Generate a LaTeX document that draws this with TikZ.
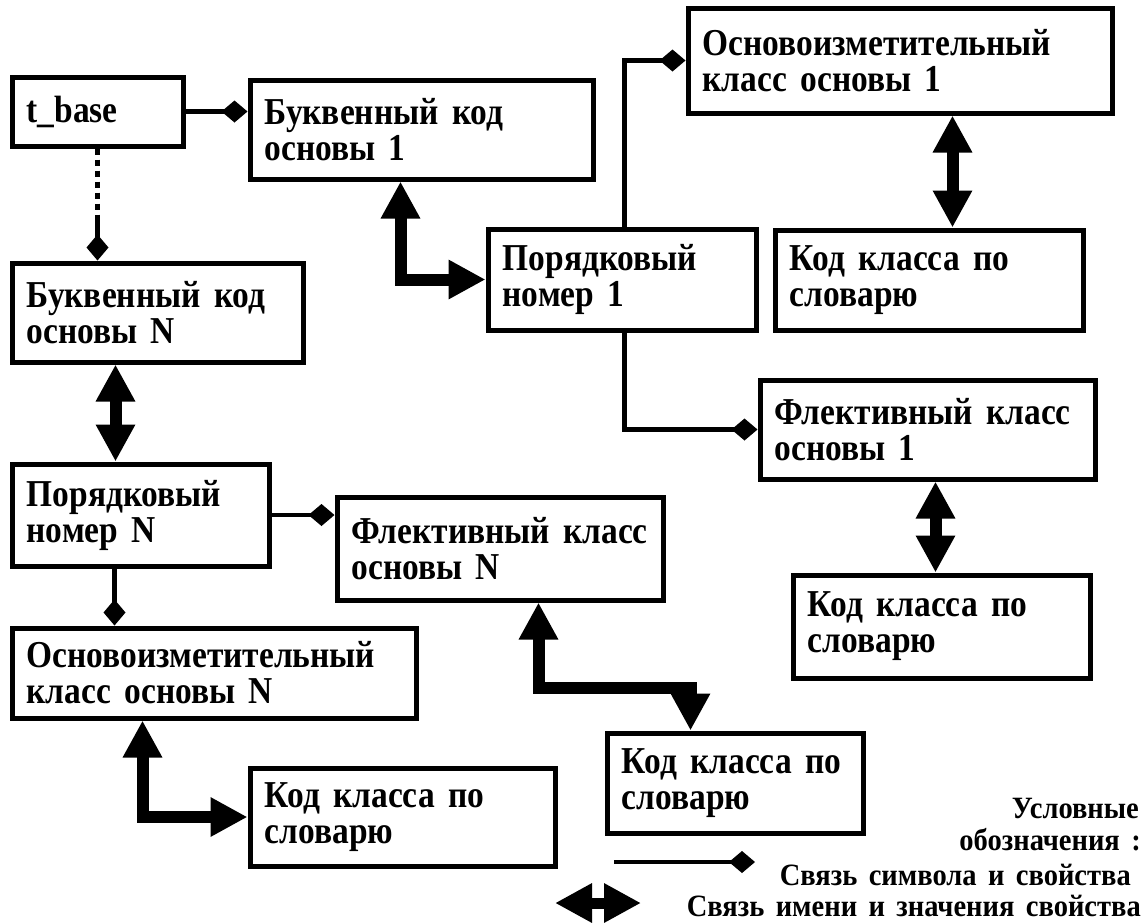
\documentclass[tikz,border=0pt]{standalone}
\usepackage{fontspec}
\setmainfont{Liberation Serif}
\newfontfamily\lblfont{Liberation Serif}[FakeStretch=0.88,WordSpace=1.6]
\newfontfamily\legfont{Liberation Serif}[FakeStretch=0.92,WordSpace=1.6]
\usetikzlibrary{arrows.meta,calc}
\newcommand\mkbox[6]{%
 \pgfmathsetmacro\mkBW{#4-#2}\pgfmathsetmacro\mkBH{#5-#3}%
 \pgfmathsetmacro\mkCX{(#2+#4)/2}\pgfmathsetmacro\mkCY{(#3+#5)/2}%
 \node[box, minimum width=\mkBW pt, minimum height=\mkBH pt] (#1) at (\mkCX,\mkCY) {};
 \node[btext] (#1t) at ($(#1.west)+(17,0)$) {#6};}
\begin{document}
\begin{tikzpicture}[x=1pt,y=-1pt,
  box/.style={draw, line width=5pt, inner sep=0pt},
  btext/.style={anchor=west, align=left, inner sep=0pt,
     font=\lblfont\fontsize{38}{36}\selectfont\bfseries},
  link/.style={line width=4.5pt, -{Diamond[length=26pt,width=22pt]}},
  dotlink/.style={line width=4.5pt, dash pattern=on 6pt off 5pt},
  dbl/.style={line width=12pt, {Triangle[length=37pt,width=37pt]}-{Triangle[length=37pt,width=37pt]}},
  legtext/.style={anchor=east, inner sep=0pt, font=\legfont\fontsize{31}{31}\selectfont\bfseries}]
\useasboundingbox (0,0) rectangle (1147,922);
% boxes
\mkbox{tb}{12}{77}{183}{146}{t\_base}
\mkbox{b1}{250}{80}{593}{179}{Буквенный код\\основы 1}
\mkbox{bN}{12}{263}{303}{362}{Буквенный код\\основы N}
\mkbox{pN}{12}{464}{269}{566}{Порядковый\\номер N}
\mkbox{fN}{337}{497}{663}{600}{Флективный класс\\основы N}
\mkbox{oN}{12}{628}{416}{718}{Основоизметительный\\класс основы N}
\mkbox{k4}{250}{768}{555}{866}{Код класса по\\словарю}
\mkbox{k3}{607}{733}{863}{833}{Код класса по\\словарю}
\mkbox{p1}{488}{229}{756}{330}{Порядковый\\номер 1}
\mkbox{o1}{688}{8}{1112}{113}{Основоизметительный\\класс основы 1}
\mkbox{k1}{775}{230}{1083}{330}{Код класса по\\словарю}
\mkbox{f1}{760}{380}{1095}{479}{Флективный класс\\основы 1}
\mkbox{k2}{793}{575}{1090}{678}{Код класса по\\словарю}
% connectors
\draw[link] (tb.east) -- (tb.east -| b1.west);
\coordinate (d1) at ($(tb.south)+(0,68)$);
\draw[dotlink] (tb.south) -- (d1);
\draw[link] (d1) -- (d1 |- bN.north);
\coordinate (b1s) at ($(b1.south west)+(153,0)$);
\draw[dbl] (b1s) |- (p1.west);
\coordinate (p1t) at ($(p1.north west)+(139,0)$);
\draw[link] (p1t) |- (o1.west);
\coordinate (p1b) at ($(p1.south west)+(139,0)$);
\draw[link] (p1b) |- (f1.west);
\coordinate (o1s) at ($(o1.south west)+(267,0)$);
\draw[dbl] (o1s) -- (o1s |- k1.north);
\coordinate (f1s) at ($(f1.south west)+(178,0)$);
\draw[dbl] (f1s) -- (f1s |- k2.north);
\coordinate (bNs) at ($(bN.south west)+(106,0)$);
\draw[dbl] (bNs) -- (bNs |- pN.north);
\draw[link] (pN.east) -- (pN.east -| fN.west);
\coordinate (pNs) at ($(pN.south west)+(105,0)$);
\draw[link] (pNs) -- (pNs |- oN.north);
\coordinate (fNs) at ($(fN.south west)+(204,0)$);
\coordinate (k3n) at ($(k3.north west)+(86,0)$);
\draw[dbl] (fNs) -- ++(0,85) -| (k3n);
\coordinate (oNs) at ($(oN.south west)+(133,0)$);
\draw[dbl] (oNs) |- (k4.west);
% legend
\node[legtext] (lg1) at (1139,808) {Условные};
\node[legtext] (lg2) at (1141,840) {обозначения :};
\coordinate (l1a) at (614,862);
\coordinate (l1b) at (755,862);
\draw[link] (l1a) -- (l1b);
\node[legtext] (lg3) at (1131,875) {Связь символа и свойства};
\coordinate (l2a) at (555,903);
\coordinate (l2b) at (641,903);
\draw[dbl, line width=11pt] (l2a) -- (l2b);
\node[legtext] (lg4) at (1141,906) {Связь имени и значения свойства};
\end{tikzpicture}
\end{document}
